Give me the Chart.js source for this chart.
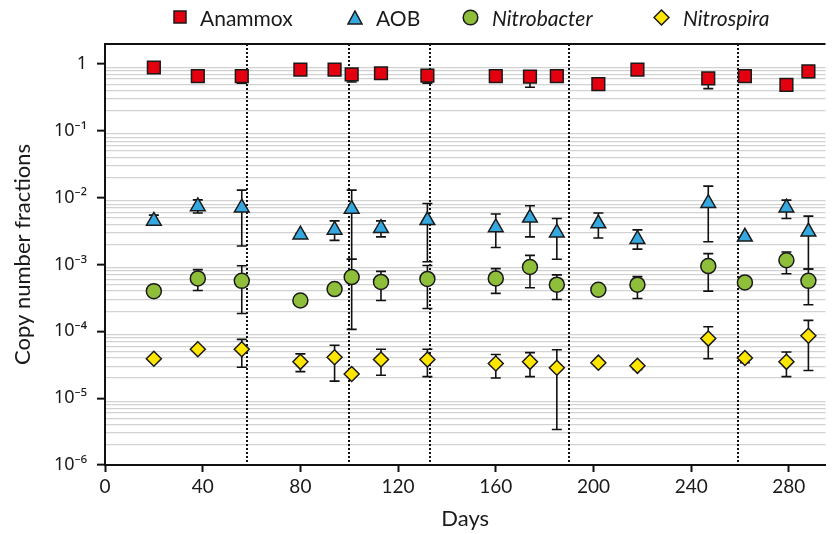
<!DOCTYPE html>
<html>
<head>
<meta charset="utf-8">
<script src="https://cdn.jsdelivr.net/npm/chart.js@4"></script>
<style>
  body { margin: 0; background: #fff; }
  #wrap { position: relative; width: 836px; height: 534px; }
  #legend { position: absolute; left: 0; top: 0; width: 836px; height: 36px; font-family: Lato, sans-serif; font-size: 21px; color: #1a1a1a; }
  .item { position: absolute; top: 4px; height: 26px; display: flex; align-items: center; white-space: nowrap; }
  .item svg { margin-right: 13px; }
  .it { font-style: italic; }
</style>
</head>
<body>
<div id="wrap">
  <canvas id="chart" width="836" height="534"></canvas>
  <div id="legend">
    <div class="item" style="left:173px"><svg width="14" height="14"><rect x="1" y="1" width="12" height="12" fill="#e3000f" stroke="#1a1a1a" stroke-width="1.5"/></svg><span>Anammox</span></div>
    <div class="item" style="left:347px"><svg width="16" height="15"><polygon points="8,1 15,14 1,14" fill="#35a8e0" stroke="#1a1a1a" stroke-width="1.5"/></svg><span>AOB</span></div>
    <div class="item" style="left:462px"><svg width="17" height="17"><circle cx="8.5" cy="8.5" r="7.3" fill="#8fbf3a" stroke="#1a1a1a" stroke-width="1.5"/></svg><span class="it">Nitrobacter</span></div>
    <div class="item" style="left:653px"><svg width="17" height="17"><polygon points="8.5,1 16,8.5 8.5,16 1,8.5" fill="#ffe600" stroke="#1a1a1a" stroke-width="1.5"/></svg><span class="it">Nitrospira</span></div>
  </div>
</div>
<script>
const days = [20, 38, 56, 80, 94, 101, 113, 132, 160, 174, 185, 202, 218, 247, 262, 279, 288];
const dividers = [58, 100, 133, 190, 259];
const xTicks = [0, 40, 80, 120, 160, 200, 240, 280];
const yTicks = [];
for (let e = -6; e <= 0; e++) {
  for (let m = 1; m <= 9; m++) {
    if (e === 0 && m > 1) break;
    yTicks.push(m * Math.pow(10, e));
  }
}

const anammox = [0.89, 0.66, 0.66, 0.83, 0.83, 0.70, 0.73, 0.67, 0.66, 0.65, 0.66, 0.50, 0.83, 0.61, 0.66, 0.49, 0.78];
const anammoxLo = [0.85, 0.55, 0.52, 0.80, 0.79, 0.54, 0.70, 0.52, 0.62, 0.45, 0.62, 0.47, 0.80, 0.43, 0.62, 0.47, 0.63];
const anammoxHi = [0.93, 0.70, 0.72, 0.87, 0.88, 0.75, 0.77, 0.72, 0.70, 0.72, 0.70, 0.53, 0.86, 0.70, 0.70, 0.51, 0.90];

const aob = [4.5e-3, 7.4e-3, 7.1e-3, 2.8e-3, 3.3e-3, 6.8e-3, 3.5e-3, 4.6e-3, 3.6e-3, 5.0e-3, 3.0e-3, 4.1e-3, 2.4e-3, 8.3e-3, 2.6e-3, 7.1e-3, 3.1e-3];
const aobLo = [4.3e-3, 5.9e-3, 1.9e-3, 2.7e-3, 2.3e-3, 1.2e-3, 2.6e-3, 1.1e-3, 1.8e-3, 2.6e-3, 1.2e-3, 2.5e-3, 1.7e-3, 2.2e-3, 2.5e-3, 4.9e-3, 8.6e-4];
const aobHi = [5.5e-3, 9.3e-3, 1.3e-2, 2.9e-3, 4.5e-3, 1.3e-2, 4.5e-3, 8.2e-3, 5.7e-3, 7.6e-3, 4.9e-3, 5.9e-3, 3.3e-3, 1.49e-2, 2.7e-3, 9.2e-3, 5.3e-3];

const nitrobacter = [4.0e-4, 6.2e-4, 5.7e-4, 2.9e-4, 4.3e-4, 6.5e-4, 5.5e-4, 6.1e-4, 6.2e-4, 9.2e-4, 5.0e-4, 4.2e-4, 5.0e-4, 9.5e-4, 5.4e-4, 1.16e-3, 5.7e-4];
const nitrobacterLo = [3.9e-4, 4.1e-4, 1.85e-4, 2.85e-4, 4.2e-4, 1.07e-4, 2.9e-4, 2.2e-4, 3.7e-4, 4.5e-4, 3.0e-4, 3.5e-4, 3.1e-4, 4.0e-4, 5.2e-4, 7.3e-4, 2.5e-4];
const nitrobacterHi = [4.1e-4, 8.4e-4, 9.6e-4, 3.0e-4, 4.4e-4, 1.2e-3, 7.9e-4, 9.7e-4, 8.7e-4, 1.37e-3, 7.0e-4, 4.4e-4, 6.6e-4, 1.46e-3, 5.6e-4, 1.54e-3, 8.6e-4];

const nitrospira = [3.9e-5, 5.4e-5, 5.4e-5, 3.5e-5, 4.1e-5, 2.3e-5, 3.8e-5, 3.8e-5, 3.3e-5, 3.5e-5, 2.85e-5, 3.4e-5, 3.05e-5, 7.8e-5, 4.0e-5, 3.5e-5, 8.6e-5];
const nitrospiraLo = [3.8e-5, 5.3e-5, 2.9e-5, 2.5e-5, 1.8e-5, 2.25e-5, 2.2e-5, 2.1e-5, 2.0e-5, 2.1e-5, 3.4e-6, 3.35e-5, 2.7e-5, 3.9e-5, 3.4e-5, 2.1e-5, 2.6e-5];
const nitrospiraHi = [4.0e-5, 5.5e-5, 7.6e-5, 4.6e-5, 6.2e-5, 2.35e-5, 5.4e-5, 5.4e-5, 4.5e-5, 4.8e-5, 5.3e-5, 3.45e-5, 3.4e-5, 1.17e-4, 4.4e-5, 4.9e-5, 1.46e-4];

const supers = { "-": "\u207B", "0": "\u2070", "1": "\u00B9", "2": "\u00B2", "3": "\u00B3", "4": "\u2074", "5": "\u2075", "6": "\u2076" };
const isDecade = v => Math.abs(Math.log10(v) - Math.round(Math.log10(v))) < 1e-9;

function series(label, vals, lo, hi, style, radius, color) {
  return {
    label: label,
    data: days.map((d, i) => ({ x: d, y: vals[i] })),
    lo: lo, hi: hi,
    showLine: false,
    pointStyle: style,
    pointRadius: radius,
    pointHoverRadius: radius,
    pointBackgroundColor: color,
    pointBorderColor: "#1a1a1a",
    pointBorderWidth: 1.5
  };
}

const extras = {
  id: "extras",
  beforeDatasetsDraw(chart) {
    const { ctx, chartArea: a, scales: { x, y } } = chart;
    ctx.save();
    // dotted phase lines
    ctx.strokeStyle = "#111";
    ctx.lineWidth = 2;
    ctx.setLineDash([2, 2]);
    dividers.forEach(d => {
      const px = Math.round(x.getPixelForValue(d));
      ctx.beginPath();
      ctx.moveTo(px, a.top);
      ctx.lineTo(px, a.bottom);
      ctx.stroke();
    });
    ctx.setLineDash([]);
    // error bars
    ctx.lineWidth = 1.6;
    chart.data.datasets.forEach(ds => {
      ds.data.forEach((p, i) => {
        const px = x.getPixelForValue(p.x);
        const y1 = y.getPixelForValue(ds.lo[i]);
        const y2 = y.getPixelForValue(ds.hi[i]);
        ctx.beginPath();
        ctx.moveTo(px, y1); ctx.lineTo(px, y2);
        ctx.moveTo(px - 5, y1); ctx.lineTo(px + 5, y1);
        ctx.moveTo(px - 5, y2); ctx.lineTo(px + 5, y2);
        ctx.stroke();
      });
    });
    // top frame
    ctx.lineWidth = 2;
    ctx.beginPath();
    ctx.moveTo(a.left, a.top);
    ctx.lineTo(a.right, a.top);
    ctx.stroke();
    ctx.restore();
  }
};

const font = { family: "Lato, sans-serif", size: 19 };
const titleFont = { family: "Lato, sans-serif", size: 22 };

new Chart(document.getElementById("chart"), {
  type: "scatter",
  data: {
    datasets: [
      series("Anammox", anammox, anammoxLo, anammoxHi, "rect", 9, "#e3000f"),
      series("AOB", aob, aobLo, aobHi, "triangle", 8.5, "#35a8e0"),
      series("Nitrobacter", nitrobacter, nitrobacterLo, nitrobacterHi, "circle", 7.5, "#8fbf3a"),
      series("Nitrospira", nitrospira, nitrospiraLo, nitrospiraHi, "rectRot", 7.5, "#ffe600")
    ]
  },
  plugins: [extras],
  options: {
    responsive: false,
    animation: false,
    events: [],
    layout: { padding: { top: 44, right: 0, left: 0, bottom: 0 } },
    plugins: { legend: { display: false }, tooltip: { enabled: false } },
    scales: {
      x: {
        type: "linear",
        min: 0,
        max: 295,
        afterBuildTicks: s => { s.ticks = xTicks.map(v => ({ value: v })); },
        afterFit: s => { s.height = 69; },
        border: { color: "#111", width: 2 },
        grid: { drawOnChartArea: false, tickLength: 7, tickColor: "#111", tickWidth: 2 },
        ticks: { font: font, color: "#1a1a1a", padding: 3 },
        title: { display: true, text: "Days", font: titleFont, color: "#1a1a1a", padding: { top: 0, bottom: 2 } }
      },
      y: {
        type: "logarithmic",
        min: 1e-6,
        max: 2,
        afterBuildTicks: s => { s.ticks = yTicks.map(v => ({ value: v })); },
        afterFit: s => { s.width = 105; },
        border: { color: "#111", width: 2 },
        grid: {
          color: c => (c.tick && isDecade(c.tick.value)) ? "rgba(0,0,0,0)" : "#d2d2d2",
          lineWidth: 1.3,
          tickLength: 8,
          tickWidth: 2,
          tickColor: c => (c.tick && isDecade(c.tick.value)) ? "#111" : "rgba(0,0,0,0)"
        },
        ticks: {
          autoSkip: false,
          font: { family: "'Noto Sans', Lato, sans-serif", size: 18 },
          color: "#1a1a1a",
          padding: 10,
          callback: v => {
            if (!isDecade(v)) return "";
            const e = Math.round(Math.log10(v));
            if (e === 0) return "1";
            return "10" + String(e).split("").map(ch => supers[ch]).join("");
          }
        },
        title: { display: true, text: "Copy number fractions", font: titleFont, color: "#1a1a1a", padding: { top: 10, bottom: 4 } }
      }
    }
  }
});
</script>
</body>
</html>
